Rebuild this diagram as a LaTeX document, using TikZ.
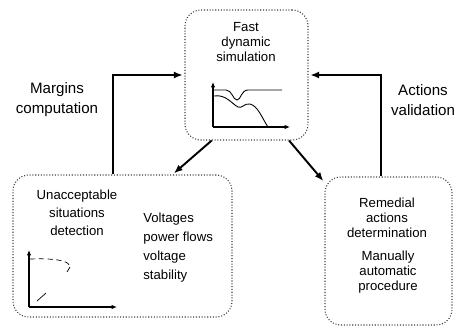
\documentclass[tikz,border=0pt]{standalone}
\usepackage{fontspec}
\setmainfont{Liberation Sans}
\usetikzlibrary{calc, arrows.meta}

\tikzset{
  stagebox/.style={draw=black!75, densely dotted, line width=0.6pt, rounded corners=9pt},
  boxtext/.style={font=\fontsize{7.5}{8.6}\selectfont, align=center, inner sep=0pt},
  looptext/.style={font=\fontsize{8.6}{11.3}\selectfont, align=center, inner sep=0pt},
  flow/.style={-{Latex[length=5pt,width=4pt]}, line width=1.1pt, shorten >=1pt},
  axis/.style={-{Latex[length=3pt,width=2.5pt]}, line width=0.6pt}
}

\begin{document}
\begin{tikzpicture}[x=0.02cm, y=-0.02cm]
\useasboundingbox (0,0) rectangle (460,329);

% Stage boxes
\node [stagebox, minimum width=2.46cm, minimum height=2.6cm] (sim) at (246.5,75) {};
\node [stagebox, minimum width=4.38cm, minimum height=2.84cm] (detect) at (122.5,246) {};
\node [stagebox, minimum width=2.54cm, minimum height=2.96cm] (remedy) at (388.5,251) {};

% Texts in the boxes
\node [boxtext] (simtext) at (246,42) {Fast\\dynamic\\simulation};
\node [boxtext, font=\fontsize{7.5}{10.2}\selectfont] (detecttext) at (77,213) {Unacceptable\\situations\\detection};
\node [boxtext, font=\fontsize{7.5}{10.8}\selectfont, align=left, anchor=west] (volttext) at (143,248) {Voltages\\power flows\\voltage\\stability};
\node [boxtext] (remedytext) at (387,218) {Remedial\\actions\\determination};
\node [boxtext] (modetext) at (388,272) {Manually\\automatic\\procedure};

% Loop labels
\node [looptext] (margins) at (57,100) {Margins\\computation};
\node [looptext] (actions) at (423,100) {Actions\\validation};

% Connectors
\coordinate (mleg) at (113,0);
\coordinate (aleg) at (381,0);
\draw [flow] (detect.north -| mleg) |- (sim.west);
\draw [flow] (remedy.north -| aleg) |- (sim.east);
\draw [flow] (sim.242) -- (detect.55);
\draw [flow] (sim.-57) -- (remedy.133);

% Small plot in the simulation box
\draw [axis] (213,127) -- (213,82);
\draw [axis] (213,127) -- (290,127);
\draw [line width=0.5pt] (214,90) -- (226,90) .. controls (232,90) and (233,100) .. (237,100)
      .. controls (241,100) and (241,90) .. (248,90) -- (282,90);
\draw [line width=0.5pt] (214,96) .. controls (226,94) and (232,104) .. (238,107)
      .. controls (242,109) and (244,103) .. (250,104) .. controls (258,106) and (262,118) .. (268,127);

% Small plot in the detection box
\draw [axis] (29,307) -- (29,250);
\draw [axis] (29,307) -- (117,307);
\draw [densely dashed, line width=0.4pt] (30,259) .. controls (55,258) and (70,261) .. (69,266);
\draw [line width=0.4pt] (70,267) -- (67,272);
\draw [line width=0.4pt] (37,301) -- (46,293);

\end{tikzpicture}
\end{document}
